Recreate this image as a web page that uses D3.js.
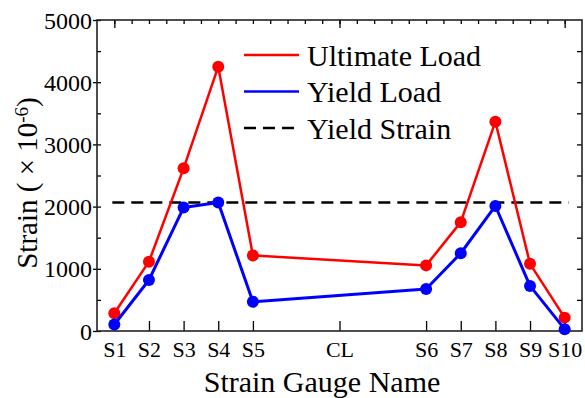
<!DOCTYPE html>
<html>
<head>
<meta charset="utf-8">
<script src="https://cdn.jsdelivr.net/npm/d3@7"></script>
<style>
  body { margin: 0; background: #fff; }
</style>
</head>
<body>
<div id="chart"></div>
<script>
//////////
// DATA //
//////////

var gaugeNames = ["S1", "S2", "S3", "S4", "S5", "CL", "S6", "S7", "S8", "S9", "S10"];
var gaugePos   = [1, 2, 3, 4, 5, 7.5, 10, 11, 12, 13, 14];
// no reading at CL, so the series skip it
var loadNames  = ["S1", "S2", "S3", "S4", "S5", "S6", "S7", "S8", "S9", "S10"];
var ultimateLoad = [285, 1115, 2615, 4250, 1215, 1055, 1750, 3365, 1080, 215];
var yieldLoad    = [105, 820, 1985, 2065, 470, 675, 1250, 2010, 725, 30];
var yieldStrain  = 2065;
var yTicks = [0, 1000, 2000, 3000, 4000, 5000];
var legendNames = ["Ultimate Load", "Yield Load", "Yield Strain"];

var serif = "'Liberation Serif', 'Times New Roman', serif";

/////////////////////
// SVG AND SCALES  //
/////////////////////

var svgWidth = 585, svgHeight = 398;
var margin = { top: 20, right: 3, bottom: 67, left: 97 };
var width = svgWidth - margin.left - margin.right,
    height = svgHeight - margin.top - margin.bottom;

var svg = d3.select("#chart").append("svg")
  .attr("width", svgWidth)
  .attr("height", svgHeight)
  .style("font-family", serif);

var g = svg.append("g")
  .attr("transform", "translate(" + margin.left + "," + margin.top + ")");

var x = d3.scaleLinear().domain([0.5, 14.5]).range([0, width]);
var y = d3.scaleLinear().domain([0, 5000]).range([height, 0]);

var posOf = {};
gaugeNames.forEach(function(n, i) { posOf[n] = gaugePos[i]; });

//////////
// AXES //
//////////

// bottom: labels + inward ticks at each gauge
var xAxis = d3.axisBottom(x).tickValues(gaugePos).tickSize(-10).tickPadding(10)
  .tickFormat(function(d, i) { return gaugeNames[i]; });
var gx = g.append("g").attr("transform", "translate(0," + height + ")").call(xAxis);
gx.attr("font-family", null).attr("font-size", null);
gx.selectAll("text").style("font-family", serif).style("font-size", "22px").attr("fill", "#000");

// left: labels with ticks crossing the spine, plus inward minors
var yAxis = d3.axisLeft(y).tickValues(yTicks).tickSize(4).tickPadding(1)
  .tickFormat(d3.format("d"));
var gy = g.append("g").call(yAxis);
gy.attr("font-family", null).attr("font-size", null);
gy.selectAll("text").style("font-family", serif).style("font-size", "24px")
  .attr("fill", "#000").attr("dy", "0.34em");
gy.selectAll(".tick line").attr("x2", -4).attr("x1", 4);
g.append("g").call(d3.axisLeft(y).tickValues(d3.range(500, 5000, 1000)).tickSize(-4).tickFormat(""));

// top: mirror with minors every 0.5
g.append("g").call(d3.axisTop(x).tickValues(d3.range(1, 14.01, 0.5)).tickSize(-4).tickFormat(""));
g.append("g").call(d3.axisTop(x).tickValues([1, 7.5, 14]).tickSize(-8).tickFormat(""));

// right: mirror every 500
g.append("g").attr("transform", "translate(" + width + ",0)")
  .call(d3.axisRight(y).tickValues(d3.range(500, 5000, 500)).tickSize(-5).tickFormat(""));

g.selectAll(".domain").remove();
g.selectAll(".tick line").attr("stroke", "#000").attr("stroke-width", 1.3);

// frame
g.append("rect")
  .attr("width", width).attr("height", height)
  .attr("fill", "none").attr("stroke", "#222").attr("stroke-width", 1.6);

// axis titles
g.append("text")
  .attr("x", 225)
  .attr("y", height + 61)
  .style("text-anchor", "middle")
  .style("font-size", "30px")
  .text("Strain Gauge Name");

var yTitle = svg.append("text")
  .attr("transform", "translate(37," + 183 + ") rotate(-90)")
  .style("text-anchor", "middle")
  .style("font-size", "29px");
yTitle.append("tspan").text("Strain ( \u00d7 10");
yTitle.append("tspan").attr("dy", "-9px").style("font-size", "19px").text("-6");
yTitle.append("tspan").attr("dy", "9px").text(")");

///////////
// LINES //
///////////

var line = d3.line()
  .x(function(d) { return x(posOf[d.name]); })
  .y(function(d) { return y(d.value); });

var series = [
  { name: legendNames[0], color: "#ff0000", width: 2.5,
    values: loadNames.map(function(n, i) { return { name: n, value: ultimateLoad[i] }; }) },
  { name: legendNames[1], color: "#0000ff", width: 3,
    values: loadNames.map(function(n, i) { return { name: n, value: yieldLoad[i] }; }) }
];

// yield strain reference line
g.append("line")
  .attr("x1", x(1) - 2).attr("x2", x(14) + 4)
  .attr("y1", y(yieldStrain)).attr("y2", y(yieldStrain))
  .attr("stroke", "#000").attr("stroke-width", 2.5)
  .attr("stroke-dasharray", "12,7");

series.forEach(function(s) {
  g.append("path")
    .datum(s.values)
    .attr("fill", "none")
    .attr("stroke", s.color)
    .attr("stroke-width", s.width)
    .attr("stroke-linejoin", "round")
    .attr("d", line);

  g.selectAll(null)
    .data(s.values)
    .enter().append("circle")
    .attr("cx", function(d) { return x(posOf[d.name]); })
    .attr("cy", function(d) { return y(d.value); })
    .attr("r", 6)
    .attr("fill", s.color);
});

////////////
// LEGEND //
////////////

var legend = g.append("g").attr("transform", "translate(147,35)");
var legendItems = [
  { color: "#ff0000", dash: null },
  { color: "#0000ff", dash: null },
  { color: "#000", dash: "12,7" }
];
legendItems.forEach(function(it, i) {
  var ly = i * 36.5;
  legend.append("line")
    .attr("x1", 0).attr("x2", 55)
    .attr("y1", ly).attr("y2", ly)
    .attr("stroke", it.color).attr("stroke-width", 2.5)
    .attr("stroke-dasharray", it.dash);
  legend.append("text")
    .attr("x", 63).attr("y", ly)
    .attr("dy", "0.35em")
    .style("font-size", "30px")
    .text(legendNames[i]);
});
</script>
</body>
</html>
